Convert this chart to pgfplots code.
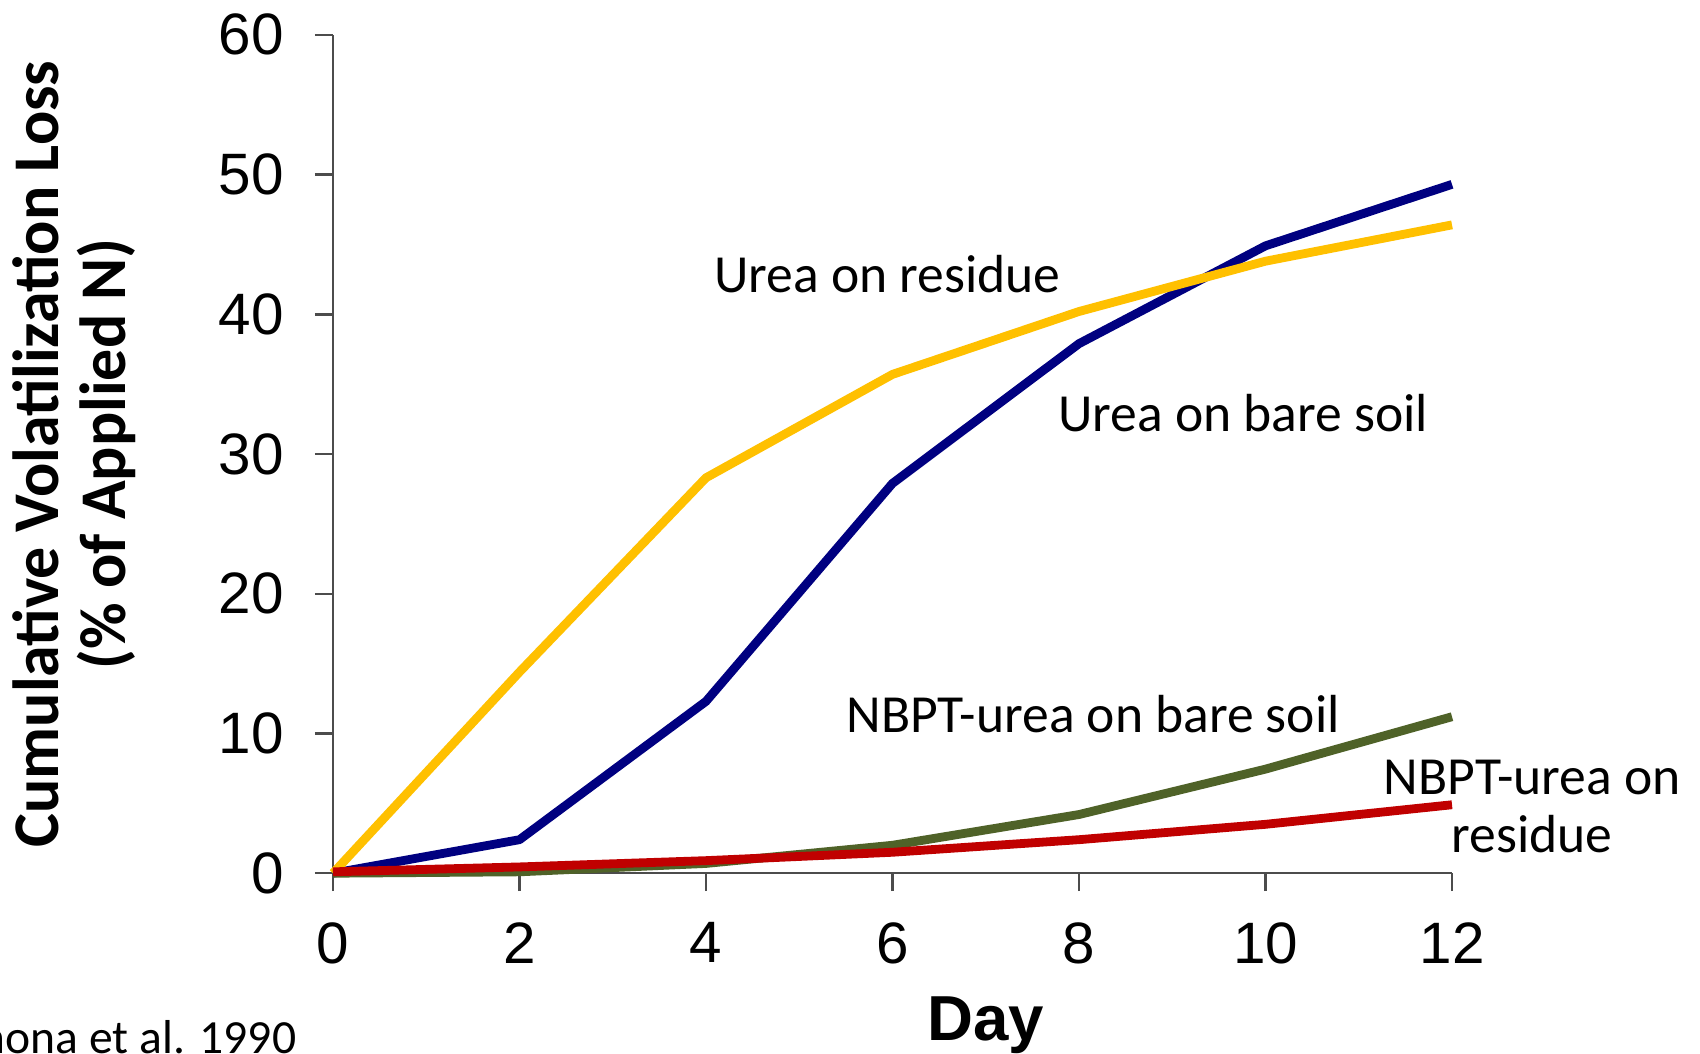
\documentclass[border=0pt]{standalone}
\usepackage{pgfplots}
\pgfplotsset{compat=1.18}
\usepackage{fontspec}
\setmainfont{Carlito}
\newfontfamily\arialfont{Liberation Sans}
\definecolor{cyellow}{HTML}{FFC000}
\definecolor{cblue}{HTML}{000080}
\definecolor{cgreen}{HTML}{4F6228}
\definecolor{cred}{HTML}{C00000}
\begin{document}
\begin{tikzpicture}
\begin{axis}[
  scale only axis,
  width=279.75pt, height=209.6pt,
  xmin=0, xmax=12, ymin=0, ymax=60,
  axis x line*=bottom, axis y line*=left,
  axis line style={black!70, line width=0.6pt, -},
  xtick={0,2,...,12}, ytick={0,10,...,60},
  tick align=outside, major tick length=4.5pt,
  tick style={black!70, line width=0.6pt},
  tick label style={font=\arialfont\fontsize{14.6}{17}\selectfont},
  yticklabel style={xshift=-4.3pt},
  xticklabel style={yshift=-4.3pt},
  /pgf/number format/assume math mode=true,
  clip=false,
  every axis plot/.append style={line width=2.2pt, line join=round, line cap=butt},
]
\addplot[cblue] coordinates {(0,0) (2,2.4) (4,12.3) (6,27.9) (8,37.9) (10,44.9) (12,49.3)};
\addplot[cyellow] coordinates {(0,0) (2,14.4) (4,28.3) (6,35.7) (8,40.2) (10,43.8) (12,46.4)};
\addplot[cgreen] coordinates {(0,0) (2,0.1) (4,0.7) (6,2.0) (8,4.2) (10,7.45) (12,11.2)};
\addplot[cred] coordinates {(0,0.1) (2,0.45) (4,0.9) (6,1.5) (8,2.4) (10,3.5) (12,4.9)};

\begin{scope}[every node/.style={inner sep=0pt, font=\fontsize{13.4}{16}\selectfont}]
\node[anchor=west] at (axis cs:4.08,42.9) {Urea on residue};
\node[anchor=west] at (axis cs:7.77,32.9) {Urea on bare soil};
\node[anchor=west] at (axis cs:5.5,11.4) {NBPT-urea on bare soil};
\node[align=center, font=\fontsize{13.4}{14.5}\selectfont] at (axis cs:12.86,4.75) {NBPT-urea on\\residue};
\node[anchor=base east, font=\fontsize{11.9}{14}\selectfont] at (axis cs:-0.386,-12.9) {Carmona et al. 1990};
\end{scope}
\node[font=\arialfont\bfseries\fontsize{15.9}{18}\selectfont] at (axis cs:7.0,-10.9) {Day};
\node[rotate=90, align=center, font=\bfseries\fontsize{16.3}{16.75}\selectfont] at ([xshift=-64.6pt]rel axis cs:0,0.5) {\scalebox{0.98}[1]{Cumulative Volatilization Loss}\\\scalebox{0.98}[1]{(\% of Applied N)}};
\end{axis}
\pgfresetboundingbox
\path[use as bounding box] (-83.25pt,-45pt) rectangle (341.75pt,218.3pt);
\end{tikzpicture}
\end{document}
